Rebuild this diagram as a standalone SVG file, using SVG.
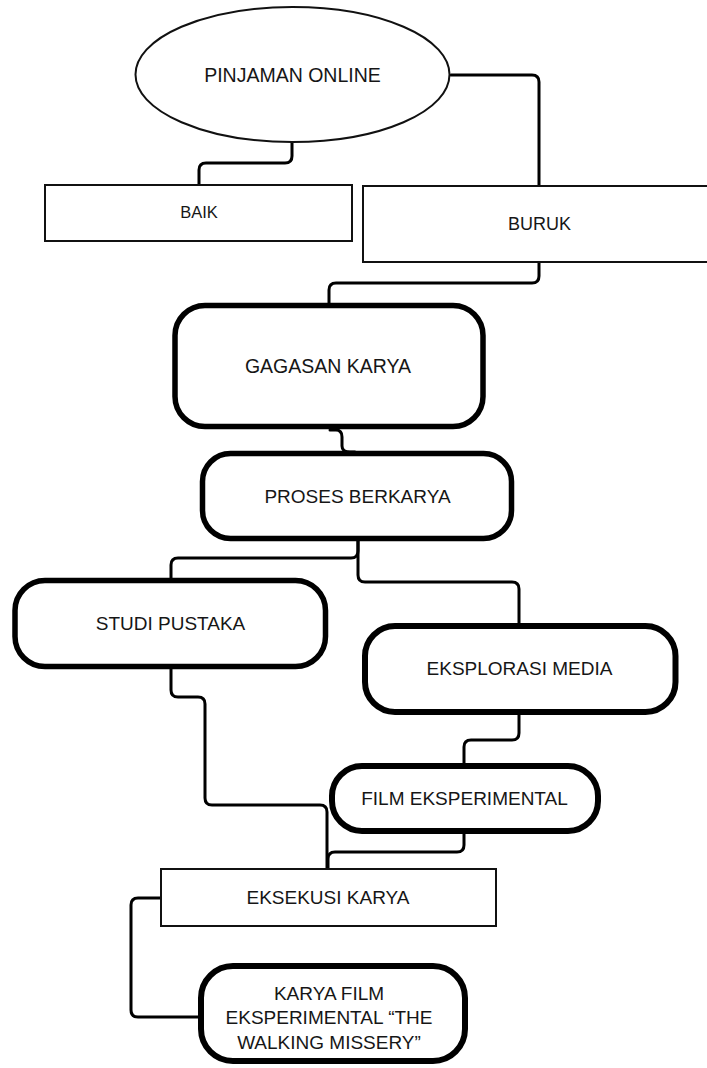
<svg xmlns="http://www.w3.org/2000/svg" width="707" height="1068" viewBox="0 0 707 1068">
<style>
.bg{fill:#ffffff}
.thin{fill:#ffffff;stroke:#111;stroke-width:2}
.thick{fill:#ffffff;stroke:#000;stroke-width:5.5}
.conn path{fill:none;stroke:#000;stroke-width:3;stroke-linejoin:round;stroke-linecap:round}
text{font-family:"Liberation Sans",Arial,sans-serif;fill:#161616;text-anchor:middle;font-size:19px}
</style>
<rect class="bg" x="0" y="0" width="707" height="1068"/>
<g id="connectors" class="conn">
<path d="M292,142 V156 Q292,163 285,163 H206 Q199,163 199,170 V185"/>
<path d="M451,75 H532 Q539,75 539,82 V186"/>
<path d="M539,262 V276 Q539,283 532,283 H336 Q329,283 329,290 V303"/>
<path d="M330,430 H336 Q342,430 342,437 V446 Q342,452 350,452 H355"/>
<path d="M358,541 V551 Q358,558 351,558 H178 Q171,558 171,565 V578"/>
<path d="M358,541 V575 Q358,582 365,582 H512 Q519,582 519,589 V623"/>
<path d="M171,669 V690 Q171,697 178,697 H198 Q205,697 205,704 V798 Q205,805 212,805 H320 Q327,805 327,812 V869"/>
<path d="M519,715 V733 Q519,740 512,740 H471 Q464,740 464,747 V763"/>
<path d="M464,834 V845 Q464,852 457,852 H335 Q328,852 328,859 V869"/>
<path d="M161,898 H138 Q131,898 131,905 V1010 Q131,1017 138,1017 H198"/>
</g>
<g id="pinjaman-online">
<ellipse class="thin" cx="292.5" cy="74.5" rx="157" ry="67.5"/>
<text x="292.5" y="82" style="font-size:19.5px">PINJAMAN ONLINE</text>
</g>
<g id="baik">
<rect class="thin" x="45" y="185" width="307" height="56"/>
<text x="199" y="218" style="font-size:16.5px">BAIK</text>
</g>
<g id="buruk">
<rect class="thin" x="363" y="186" width="347" height="76"/>
<text x="539.5" y="230" style="font-size:18px">BURUK</text>
</g>
<g id="gagasan-karya">
<rect class="thick" x="175" y="305.5" width="308" height="121" rx="30" ry="30"/>
<text x="328" y="373" style="font-size:19.5px">GAGASAN KARYA</text>
</g>
<g id="proses-berkarya">
<rect class="thick" x="202.5" y="453.5" width="309" height="85" rx="28" ry="28"/>
<text x="357.5" y="503">PROSES BERKARYA</text>
</g>
<g id="studi-pustaka">
<rect class="thick" x="15" y="580.5" width="310.5" height="86" rx="30" ry="30"/>
<text x="170.5" y="630">STUDI PUSTAKA</text>
</g>
<g id="eksplorasi-media">
<rect class="thick" x="365" y="626" width="310.5" height="86" rx="30" ry="30" style="stroke-width:6"/>
<text x="519.5" y="675">EKSPLORASI MEDIA</text>
</g>
<g id="film-eksperimental">
<rect class="thick" x="332" y="766" width="266" height="65" rx="30" ry="30" style="stroke-width:6"/>
<text x="464.5" y="805">FILM EKSPERIMENTAL</text>
</g>
<g id="eksekusi-karya">
<rect class="thin" x="161" y="869" width="335" height="57"/>
<text x="328" y="904">EKSEKUSI KARYA</text>
</g>
<g id="karya-film">
<rect class="thick" x="201" y="966" width="264" height="95" rx="32" ry="32" style="stroke-width:6"/>
<text x="329" y="1000">KARYA FILM</text>
<text x="329" y="1024">EKSPERIMENTAL “THE</text>
<text x="329" y="1049">WALKING MISSERY”</text>
</g>
</svg>
